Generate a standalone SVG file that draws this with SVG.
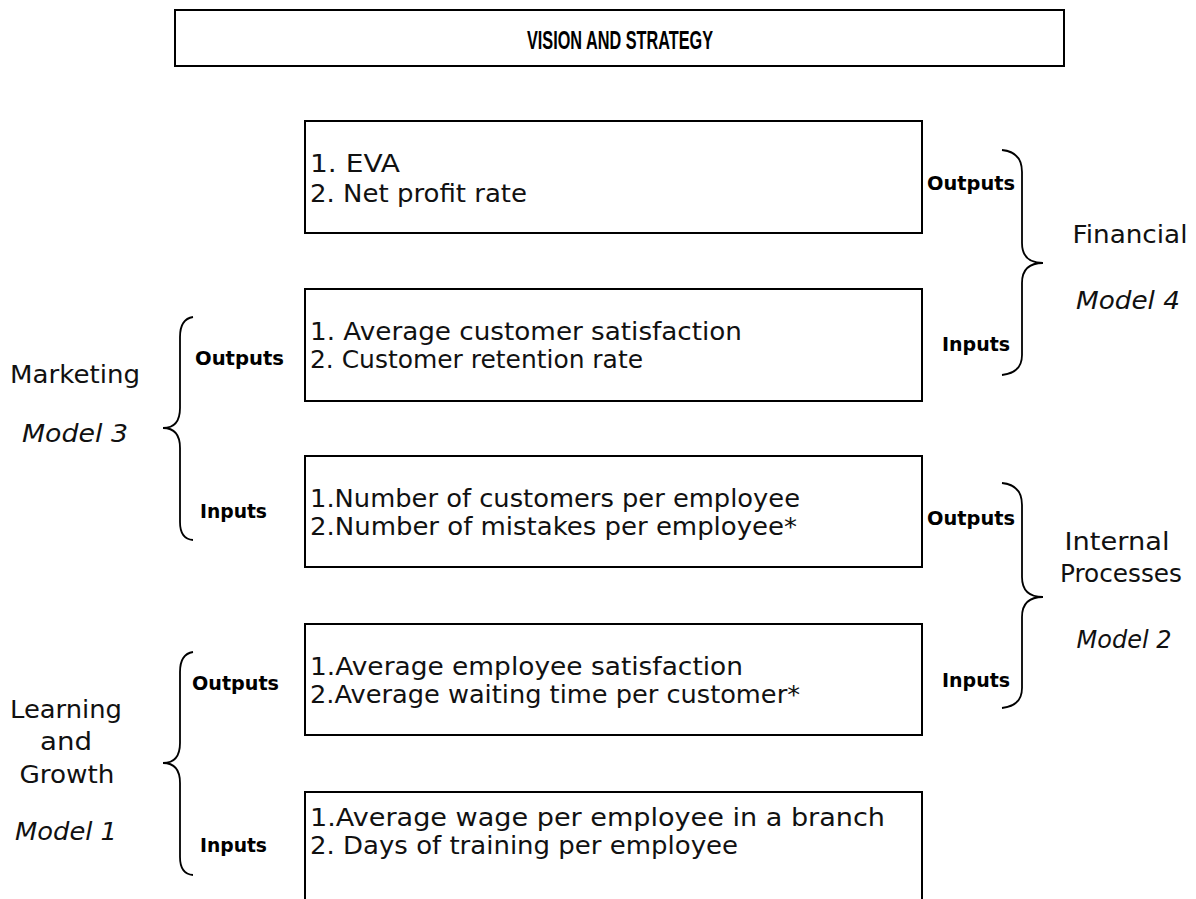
<svg xmlns="http://www.w3.org/2000/svg" width="1196" height="899" viewBox="0 0 1196 899">
<style>
.box{fill:#fff;stroke:#000;stroke-width:2}
.brace{fill:none;stroke:#000;stroke-width:1.8}
.t{font-family:"DejaVu Sans","Liberation Sans",sans-serif;font-size:24px;fill:#111}
.lab{font-family:"DejaVu Sans","Liberation Sans",sans-serif;font-size:25px;fill:#111;text-anchor:middle}
.it{font-style:italic}
.b{font-family:"DejaVu Sans","Liberation Sans",sans-serif;font-size:20px;font-weight:bold;fill:#000}
.title{font-family:"Liberation Sans","DejaVu Sans",sans-serif;font-size:26px;font-weight:bold;fill:#000;text-anchor:middle}
</style>
<rect width="1196" height="899" fill="#fff"/>
<g id="vision">
<rect class="box" x="175" y="10" width="889" height="56"/>
<text class="title" x="620" y="49" textLength="186" lengthAdjust="spacingAndGlyphs">VISION AND STRATEGY</text>
</g>
<g id="box-financial">
<rect class="box" x="305" y="121" width="617" height="112"/>
<text class="t" x="310" y="172" textLength="90" lengthAdjust="spacingAndGlyphs">1. EVA</text>
<text class="t" x="310" y="202" textLength="217" lengthAdjust="spacingAndGlyphs">2. Net profit rate</text>
</g>
<g id="box-customer">
<rect class="box" x="305" y="289" width="617" height="112"/>
<text class="t" x="310" y="340" textLength="432" lengthAdjust="spacingAndGlyphs">1. Average customer satisfaction</text>
<text class="t" x="310" y="368" textLength="333" lengthAdjust="spacingAndGlyphs">2. Customer retention rate</text>
</g>
<g id="box-internal">
<rect class="box" x="305" y="456" width="617" height="111"/>
<text class="t" x="310" y="507" textLength="490" lengthAdjust="spacingAndGlyphs">1.Number of customers per employee</text>
<text class="t" x="310" y="535" textLength="487" lengthAdjust="spacingAndGlyphs">2.Number of mistakes per employee*</text>
</g>
<g id="box-employee">
<rect class="box" x="305" y="624" width="617" height="111"/>
<text class="t" x="310" y="675" textLength="433" lengthAdjust="spacingAndGlyphs">1.Average employee satisfaction</text>
<text class="t" x="310" y="703" textLength="490" lengthAdjust="spacingAndGlyphs">2.Average waiting time per customer*</text>
</g>
<g id="box-learning">
<rect class="box" x="305" y="792" width="617" height="112"/>
<text class="t" x="310" y="826" textLength="575" lengthAdjust="spacingAndGlyphs">1.Average wage per employee in a branch</text>
<text class="t" x="310" y="854" textLength="428" lengthAdjust="spacingAndGlyphs">2. Days of training per employee</text>
</g>
<g id="model-4-financial">
<text class="b" x="927" y="190" textLength="88" lengthAdjust="spacingAndGlyphs">Outputs</text>
<text class="b" x="942" y="351" textLength="68" lengthAdjust="spacingAndGlyphs">Inputs</text>
<text class="lab" x="1130" y="243" textLength="115" lengthAdjust="spacingAndGlyphs">Financial</text>
<text class="lab it" x="1128" y="309" textLength="104" lengthAdjust="spacingAndGlyphs">Model 4</text>
</g>
<g id="model-3-marketing">
<text class="b" x="195" y="365" textLength="89" lengthAdjust="spacingAndGlyphs">Outputs</text>
<text class="b" x="200" y="518" textLength="67" lengthAdjust="spacingAndGlyphs">Inputs</text>
<text class="lab" x="75" y="383" textLength="130" lengthAdjust="spacingAndGlyphs">Marketing</text>
<text class="lab it" x="75" y="442" textLength="106" lengthAdjust="spacingAndGlyphs">Model 3</text>
</g>
<g id="model-2-internal">
<text class="b" x="927" y="525" textLength="88" lengthAdjust="spacingAndGlyphs">Outputs</text>
<text class="b" x="942" y="687" textLength="68" lengthAdjust="spacingAndGlyphs">Inputs</text>
<text class="lab" x="1117" y="550" textLength="105" lengthAdjust="spacingAndGlyphs">Internal</text>
<text class="lab" x="1121" y="582" textLength="122" lengthAdjust="spacingAndGlyphs">Processes</text>
<text class="lab it" x="1124" y="648" textLength="95" lengthAdjust="spacingAndGlyphs">Model 2</text>
</g>
<g id="model-1-learning">
<text class="b" x="192" y="690" textLength="87" lengthAdjust="spacingAndGlyphs">Outputs</text>
<text class="b" x="200" y="852" textLength="67" lengthAdjust="spacingAndGlyphs">Inputs</text>
<text class="lab" x="66" y="718" textLength="112" lengthAdjust="spacingAndGlyphs">Learning</text>
<text class="lab" x="66" y="750" textLength="52" lengthAdjust="spacingAndGlyphs">and</text>
<text class="lab" x="67" y="783" textLength="95" lengthAdjust="spacingAndGlyphs">Growth</text>
<text class="lab it" x="66" y="840" textLength="102" lengthAdjust="spacingAndGlyphs">Model 1</text>
</g>
<g id="connectors">
<path class="brace" d="M1002,150 Q1022,152 1022,172 L1022,243 Q1022,263 1043,263 Q1022,263 1022,283 L1022,355 Q1022,373 1002,375"/>
<path class="brace" d="M1002,483 Q1022,485 1022,505 L1022,577 Q1022,597 1043,597 Q1022,597 1022,617 L1022,688 Q1022,706 1002,708"/>
<path class="brace" d="M193,317 Q180,319 180,337 L180,408 Q180,428 163,428 Q180,428 180,448 L180,522 Q180,539 193,540"/>
<path class="brace" d="M193,652 Q180,654 180,672 L180,743 Q180,763 163,763 Q180,763 180,783 L180,857 Q180,874 193,875"/>
</g>
</svg>
